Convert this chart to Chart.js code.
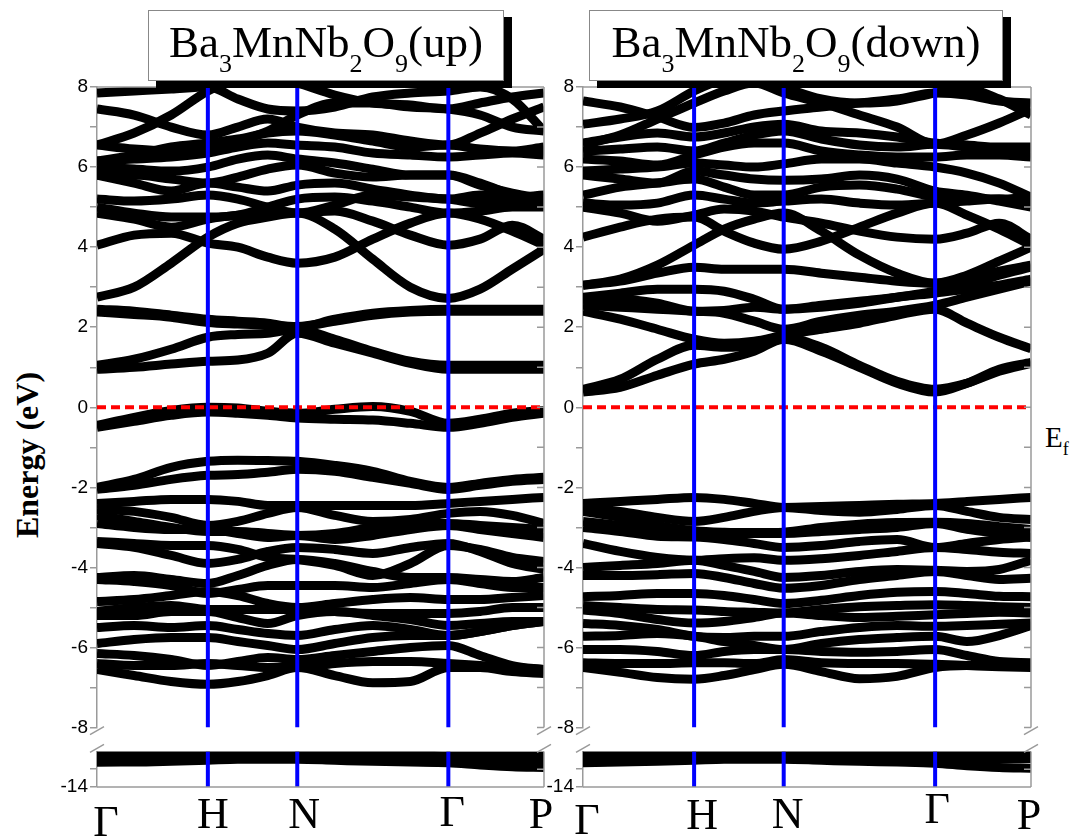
<!DOCTYPE html>
<html>
<head>
<meta charset="utf-8">
<script src="https://cdn.jsdelivr.net/npm/chart.js@4.4.0/dist/chart.umd.min.js"></script>
<style>
body { margin:0; width:1075px; height:838px; overflow:hidden; position:relative; background:#fff; font-family:"Liberation Serif", "Times New Roman", serif; }
canvas { position:absolute; }
.title { position:absolute; top:10px; height:71px; box-sizing:border-box; border:1px solid #888; background:#fff; box-shadow:8px 7px 0 #000; text-align:center; font-size:45px; line-height:63px; white-space:nowrap; z-index:2; }
.title sub { font-size:26px; vertical-align:-15px; line-height:0; }
.ylab { position:absolute; left:-73px; top:439px; width:200px; text-align:center; font-weight:bold; font-size:32px; line-height:32px; transform:rotate(-90deg); }
.ef { position:absolute; left:1045px; top:423px; font-size:29px; line-height:29px; }
.ef sub { font-size:18px; vertical-align:-8px; line-height:0; }
</style>
</head>
<body>
<div class="title" style="left:148px; width:356px;">Ba<sub>3</sub>MnNb<sub>2</sub>O<sub>9</sub>(up)</div>
<div class="title" style="left:589px; width:414px;">Ba<sub>3</sub>MnNb<sub>2</sub>O<sub>9</sub>(down)</div>
<div class="ylab">Energy (eV)</div>
<div class="ef">E<sub>f</sub></div>

<canvas id="upTop" width="560" height="681" style="left:0px; top:60px;"></canvas>
<canvas id="upBottom" width="560" height="100" style="left:0px; top:738px;"></canvas>
<canvas id="downTop" width="560" height="681" style="left:486px; top:60px;"></canvas>
<canvas id="downBottom" width="560" height="100" style="left:486px; top:738px;"></canvas>

<script>
// k-path sampling (fraction of the Γ-H-N-Γ-P path)
var kPath = [0, 0.083, 0.166, 0.248, 0.315, 0.382, 0.448, 0.532, 0.617, 0.701, 0.786, 0.857, 0.929, 1.0];
var symPoints = [0, 0.248, 0.448, 0.786, 1.0];
var symLabels = ['Γ', 'H', 'N', 'Γ', 'P'];

var upperTicks = [-8, -7, -6, -5, -4, -3, -2, -1, 0, 1, 2, 3, 4, 5, 6, 7, 8];
var lowerTicks = [-14, -13.5];

// spin up bands (eV)
var upConduction = [
    [0.95, 1.0, 1.08, 1.15, 1.18, 1.35, 1.85, 1.6, 1.35, 1.1, 0.95, 0.95, 0.95, 0.95],
    [1.05, 1.2, 1.45, 1.75, 1.82, 1.85, 1.95, 1.7, 1.4, 1.15, 1.05, 1.05, 1.05, 1.05],
    [2.45, 2.4, 2.3, 2.2, 2.15, 2.1, 2.0, 2.2, 2.35, 2.42, 2.45, 2.45, 2.45, 2.45],
    [2.38, 2.32, 2.25, 2.12, 2.08, 2.05, 2.02, 2.15, 2.3, 2.38, 2.4, 2.4, 2.4, 2.4],
    [2.75, 3.0, 3.6, 4.25, 4.6, 4.75, 4.85, 4.45, 3.7, 3.0, 2.72, 2.95, 3.45, 3.95],
    [4.05, 4.3, 4.35, 4.1, 4.0, 3.75, 3.6, 3.75, 4.2, 4.6, 4.85, 4.7, 4.4, 4.05],
    [4.85, 4.7, 4.5, 4.7, 4.8, 4.85, 4.85, 4.9, 4.65, 4.3, 4.05, 4.2, 4.55, 4.2],
    [5.0, 4.85, 4.75, 4.75, 4.8, 5.0, 5.2, 5.25, 5.15, 5.0, 4.85, 4.9, 5.0, 5.0],
    [5.2, 5.15, 5.2, 5.3, 5.2, 5.0, 4.85, 5.05, 5.3, 5.25, 5.2, 5.1, 5.15, 5.2],
    [5.8, 5.6, 5.4, 5.6, 5.5, 5.4, 5.55, 5.6, 5.45, 5.3, 5.2, 5.3, 5.25, 5.3],
    [5.8, 5.8, 5.7, 5.6, 5.75, 5.95, 6.05, 5.85, 5.75, 5.8, 5.8, 5.55, 5.35, 5.2],
    [6.0, 5.95, 5.9, 6.0, 6.2, 6.3, 6.2, 6.1, 5.95, 5.8, 5.8, 5.6, 5.3, 5.05],
    [6.15, 6.2, 6.25, 6.35, 6.5, 6.6, 6.55, 6.5, 6.35, 6.3, 6.25, 6.3, 6.35, 6.3],
    [6.15, 6.3, 6.5, 6.6, 6.7, 6.85, 6.9, 6.8, 6.65, 6.5, 6.55, 6.45, 6.4, 6.5],
    [6.55, 6.85, 7.3, 7.9, 8.2, 8.3, 8.1, 7.8, 7.6, 7.55, 7.45, 7.6, 7.75, 7.85],
    [7.45, 7.3, 7.0, 6.8, 7.0, 7.2, 7.0, 6.85, 6.8, 6.65, 6.55, 6.85, 7.2, 7.5],
    [7.85, 7.9, 7.95, 8.0, 7.7, 7.45, 7.4, 7.5, 7.75, 7.85, 7.9, 8.0, 7.7, 6.9],
    [6.55, 6.45, 6.4, 6.5, 6.65, 6.9, 7.3, 7.6, 7.6, 7.5, 7.45, 7.3, 7.0, 6.9]
];
var upValence = [
    [-0.45, -0.25, -0.08, 0.0, -0.02, -0.1, -0.15, -0.05, 0.02, -0.1, -0.4, -0.3, -0.15, -0.08],
    [-0.5, -0.35, -0.2, -0.12, -0.15, -0.2, -0.27, -0.3, -0.32, -0.4, -0.5, -0.4, -0.25, -0.15],
    [-2.0, -1.8, -1.5, -1.35, -1.32, -1.33, -1.35, -1.45, -1.6, -1.85, -2.0, -1.9, -1.8, -1.75],
    [-2.05, -1.95, -1.8, -1.7, -1.68, -1.62, -1.55, -1.6, -1.75, -1.9, -2.05, -1.95, -1.85, -1.8],
    [-2.4, -2.35, -2.3, -2.3, -2.35, -2.45, -2.45, -2.45, -2.45, -2.45, -2.4, -2.35, -2.3, -2.25],
    [-2.55, -2.6, -2.75, -2.95, -2.85, -2.65, -2.5, -2.7, -2.85, -2.8, -2.65, -2.6, -2.7, -2.9],
    [-2.7, -2.85, -3.0, -3.1, -3.1, -3.15, -3.2, -3.15, -3.0, -2.9, -2.9, -2.95, -3.0, -3.05],
    [-2.9, -3.0, -3.05, -3.05, -3.15, -3.25, -3.2, -3.3, -3.2, -3.05, -2.95, -3.05, -3.15, -3.25],
    [-3.4, -3.5, -3.7, -3.9, -3.8, -3.6, -3.5, -3.55, -3.65, -3.5, -3.4, -3.6, -3.9, -4.05],
    [-3.35, -3.4, -3.45, -3.45, -3.55, -3.75, -3.8, -3.95, -4.2, -3.9, -3.45, -3.55, -3.75, -3.85],
    [-4.25, -4.2, -4.3, -4.4, -4.2, -3.95, -3.8, -3.9, -4.1, -4.25, -4.25, -4.3, -4.35, -4.25],
    [-4.3, -4.35, -4.45, -4.65, -4.55, -4.45, -4.45, -4.45, -4.5, -4.4, -4.3, -4.4, -4.5, -4.5],
    [-4.85, -4.8, -4.7, -4.6, -4.7, -4.9, -5.0, -4.9, -4.8, -4.75, -4.8, -4.8, -4.75, -4.7],
    [-5.1, -5.0, -4.95, -5.05, -5.05, -5.05, -5.05, -5.1, -5.15, -5.15, -5.15, -5.1, -5.0, -5.0],
    [-5.2, -5.2, -5.1, -5.1, -5.25, -5.4, -5.2, -5.1, -5.2, -5.3, -5.45, -5.4, -5.35, -5.35],
    [-5.5, -5.45, -5.5, -5.45, -5.55, -5.65, -5.7, -5.55, -5.45, -5.55, -5.7, -5.6, -5.45, -5.35],
    [-5.9, -5.8, -5.75, -5.75, -5.85, -5.95, -6.05, -5.9, -5.75, -5.7, -5.7, -5.6, -5.45, -5.35],
    [-6.15, -6.2, -6.3, -6.45, -6.35, -6.25, -6.3, -6.2, -6.1, -6.0, -5.95, -6.2, -6.45, -6.55],
    [-6.4, -6.45, -6.45, -6.4, -6.45, -6.5, -6.5, -6.4, -6.35, -6.35, -6.4, -6.45, -6.5, -6.55],
    [-6.55, -6.7, -6.85, -6.92, -6.85, -6.7, -6.5, -6.7, -6.88, -6.85, -6.5, -6.5, -6.6, -6.65]
];
var upCore = [
    [-13.1, -13.1, -13.08, -13.06, -13.05, -13.05, -13.05, -13.06, -13.08, -13.1, -13.12, -13.12, -13.12, -13.12],
    [-13.3, -13.28, -13.25, -13.22, -13.2, -13.2, -13.2, -13.22, -13.25, -13.28, -13.3, -13.25, -13.22, -13.2],
    [-13.3, -13.3, -13.28, -13.25, -13.22, -13.22, -13.22, -13.25, -13.28, -13.3, -13.32, -13.38, -13.43, -13.45]
];

// spin down bands (eV)
var downConduction = [
    [0.38, 0.5, 0.8, 1.08, 1.2, 1.4, 1.7, 1.4, 1.0, 0.6, 0.38, 0.6, 0.95, 1.12],
    [0.45, 0.7, 1.2, 1.55, 1.5, 1.55, 1.75, 1.5, 1.05, 0.65, 0.45, 0.6, 0.9, 1.1],
    [2.4, 2.2, 1.95, 1.7, 1.6, 1.65, 1.8, 1.95, 2.1, 2.3, 2.45, 2.1, 1.75, 1.46],
    [2.55, 2.5, 2.45, 2.4, 2.35, 2.15, 1.95, 2.15, 2.3, 2.4, 2.55, 2.75, 2.95, 3.15],
    [2.7, 2.7, 2.6, 2.4, 2.42, 2.5, 2.45, 2.5, 2.6, 2.75, 2.85, 2.95, 3.05, 3.2],
    [2.75, 2.85, 2.95, 2.95, 2.9, 2.7, 2.45, 2.55, 2.65, 2.75, 2.9, 3.05, 3.3, 3.5],
    [3.05, 3.15, 3.35, 3.5, 3.45, 3.45, 3.45, 3.35, 3.25, 3.15, 3.1, 3.2, 3.4, 3.55],
    [3.05, 3.2, 3.55, 4.05, 4.45, 4.7, 4.85, 4.4, 3.8, 3.35, 3.1, 3.3, 3.65, 4.0],
    [4.25, 4.5, 4.7, 4.75, 4.4, 4.1, 3.95, 4.15, 4.5, 4.85, 5.1, 4.8, 4.45, 4.05],
    [5.0, 4.85, 4.65, 4.8, 4.95, 4.9, 4.75, 4.6, 4.4, 4.25, 4.2, 4.35, 4.6, 4.2],
    [5.1, 5.05, 5.1, 5.3, 5.2, 5.1, 5.15, 5.2, 5.1, 5.05, 5.1, 5.15, 5.2, 5.05],
    [5.3, 5.5, 5.6, 5.7, 5.5, 5.3, 5.3, 5.5, 5.55, 5.45, 5.25, 5.2, 5.2, 5.25],
    [5.8, 5.7, 5.6, 5.9, 5.8, 5.7, 5.67, 5.7, 5.8, 5.7, 5.4, 5.3, 5.15, 5.0],
    [5.9, 5.95, 6.0, 6.1, 6.05, 6.0, 6.08, 6.2, 6.2, 6.1, 6.0, 5.85, 5.6, 5.25],
    [6.2, 6.15, 6.05, 6.3, 6.5, 6.6, 6.6, 6.4, 6.3, 6.25, 6.25, 6.3, 6.3, 6.25],
    [6.4, 6.45, 6.5, 6.4, 6.6, 6.8, 6.9, 6.7, 6.55, 6.5, 6.57, 6.5, 6.45, 6.4],
    [6.6, 6.75, 6.85, 6.75, 6.85, 7.0, 7.07, 6.9, 6.85, 6.75, 6.6, 6.55, 6.5, 6.5],
    [7.07, 7.2, 7.4, 7.9, 8.2, 8.3, 8.0, 7.7, 7.6, 7.65, 7.85, 7.95, 7.7, 7.3],
    [7.65, 7.5, 7.25, 6.99, 7.1, 7.3, 7.4, 7.5, 7.6, 7.7, 7.85, 7.8, 7.65, 7.6],
    [6.55, 6.8, 7.2, 7.6, 7.9, 8.1, 7.85, 7.6, 7.3, 7.0, 6.57, 6.8, 7.1, 7.45]
];
var downValence = [
    [-2.4, -2.35, -2.3, -2.25, -2.3, -2.4, -2.5, -2.48, -2.45, -2.42, -2.4, -2.35, -2.3, -2.25],
    [-2.5, -2.6, -2.75, -2.85, -2.75, -2.6, -2.5, -2.58, -2.62, -2.55, -2.45, -2.6, -2.75, -2.8],
    [-2.6, -2.75, -2.95, -3.08, -3.12, -3.13, -3.12, -3.0, -2.92, -2.88, -2.87, -2.9, -2.98, -3.05],
    [-2.85, -2.95, -3.05, -3.2, -3.2, -3.15, -3.15, -3.1, -3.05, -3.0, -2.9, -3.05, -3.15, -3.25],
    [-3.0, -3.1, -3.22, -3.24, -3.3, -3.4, -3.5, -3.45, -3.35, -3.3, -3.5, -3.4, -3.3, -3.24],
    [-3.4, -3.6, -3.75, -3.82, -3.78, -3.76, -3.82, -3.78, -3.7, -3.6, -3.5, -3.55, -3.62, -3.65],
    [-4.0, -3.95, -3.9, -3.82, -3.95, -4.1, -4.25, -4.2, -4.1, -4.05, -4.07, -4.1, -4.05, -3.82],
    [-4.2, -4.2, -4.18, -4.15, -4.25, -4.4, -4.52, -4.45, -4.3, -4.2, -4.1, -4.2, -4.3, -4.27],
    [-4.73, -4.7, -4.65, -4.65, -4.7, -4.8, -4.9, -4.82, -4.7, -4.62, -4.6, -4.65, -4.72, -4.73],
    [-4.95, -5.0, -5.05, -5.06, -5.1, -5.12, -5.14, -5.05, -4.98, -4.95, -4.93, -4.95, -4.98, -5.0],
    [-5.06, -5.15, -5.3, -5.39, -5.35, -5.25, -5.14, -5.2, -5.25, -5.22, -5.18, -5.15, -5.12, -5.14],
    [-5.4, -5.45, -5.55, -5.72, -5.75, -5.72, -5.72, -5.6, -5.5, -5.45, -5.47, -5.45, -5.42, -5.39],
    [-5.72, -5.7, -5.65, -5.72, -5.85, -5.95, -6.05, -5.9, -5.8, -5.75, -5.72, -5.85, -5.7, -5.45],
    [-6.05, -6.05, -6.1, -6.2, -6.1, -6.05, -6.05, -6.1, -6.12, -6.1, -6.05, -6.2, -6.35, -6.38],
    [-6.38, -6.4, -6.4, -6.38, -6.38, -6.4, -6.3, -6.38, -6.4, -6.4, -6.42, -6.45, -6.48, -6.5],
    [-6.5, -6.62, -6.75, -6.79, -6.7, -6.55, -6.42, -6.6, -6.78, -6.72, -6.5, -6.45, -6.45, -6.48]
];
var downCore = [
    [-13.08, -13.08, -13.07, -13.05, -13.04, -13.04, -13.04, -13.05, -13.07, -13.09, -13.1, -13.1, -13.1, -13.1],
    [-13.3, -13.28, -13.25, -13.22, -13.2, -13.2, -13.2, -13.22, -13.25, -13.28, -13.3, -13.25, -13.22, -13.2],
    [-13.32, -13.3, -13.28, -13.25, -13.22, -13.22, -13.22, -13.25, -13.28, -13.3, -13.33, -13.4, -13.45, -13.47]
];

// draws the right edge, inward ticks, top/bottom edge and the axis break marks
var framePlugin = {
    id: 'frame',
    afterDatasetsDraw: function(chart, args, opts) {
        var a = chart.chartArea;
        var ctx = chart.ctx;
        var ys = chart.scales.y;
        ctx.save();
        ctx.strokeStyle = '#9a9a9a';
        ctx.lineWidth = 1.5;
        ctx.beginPath();
        ctx.moveTo(a.right, a.top);
        ctx.lineTo(a.right, a.bottom);
        if (opts.edge === 'top') {
            ctx.moveTo(a.left, a.top);
            ctx.lineTo(a.right, a.top);
        } else {
            ctx.moveTo(a.left, a.bottom);
            ctx.lineTo(a.right, a.bottom);
        }
        ys.ticks.forEach(function(t) {
            var y = ys.getPixelForValue(t.value);
            ctx.moveTo(a.right - 7, y);
            ctx.lineTo(a.right, y);
        });
        var by = opts.edge === 'top' ? a.bottom + 3 : a.top - 3;
        [a.left, a.right].forEach(function(x) {
            ctx.moveTo(x - 7, by + 4);
            ctx.lineTo(x + 7, by - 4);
        });
        ctx.stroke();
        ctx.restore();
    }
};

// high-symmetry point names under the lower segment
var kLabelPlugin = {
    id: 'kLabels',
    afterDraw: function(chart, args, opts) {
        if (!opts.dx) return;
        var ctx = chart.ctx;
        var xs = chart.scales.x;
        ctx.save();
        ctx.fillStyle = '#000';
        ctx.font = '44px "Liberation Serif", serif';
        ctx.textAlign = 'center';
        ctx.textBaseline = 'alphabetic';
        symLabels.forEach(function(lab, i) {
            ctx.fillText(lab, xs.getPixelForValue(symPoints[i]) + opts.dx[i], 828 - 738 + opts.dy[i]);
        });
        ctx.restore();
    }
};

function bandSets(bands) {
    return bands.map(function(b) {
        return {
            data: b.map(function(v, i) { return {x: kPath[i], y: v}; }),
            borderColor: '#000',
            borderWidth: 9,
            pointRadius: 0,
            cubicInterpolationMode: 'monotone',
            clip: 0,
            order: 2
        };
    });
}

function guideSets(lo, hi, withFermi) {
    var sets = symPoints.slice(1, 4).map(function(k) {
        return {
            data: [{x: k, y: lo}, {x: k, y: hi}],
            borderColor: '#0000ff',
            borderWidth: 4,
            pointRadius: 0,
            tension: 0,
            clip: 0,
            order: 0
        };
    });
    if (withFermi) {
        sets.push({
            data: [{x: 0, y: 0}, {x: 1, y: 0}],
            borderColor: '#ff0000',
            borderWidth: 4,
            borderDash: [9, 5],
            pointRadius: 0,
            tension: 0,
            order: 1
        });
    }
    return sets;
}

function makeChart(id, bands, lo, hi, ticks, isTop, labelOpts) {
    var padRight = id.indexOf('down') === 0 ? 15 : 16;
    return new Chart(document.getElementById(id), {
        type: 'line',
        data: { datasets: guideSets(lo, hi, isTop).concat(bandSets(bands)) },
        options: {
            responsive: false,
            animation: false,
            devicePixelRatio: 1,
            events: [],
            layout: { autoPadding: false, padding: { left: 0, right: padRight, top: isTop ? 27 : 9, bottom: isTop ? 8 : 51 } },
            plugins: {
                legend: { display: false },
                tooltip: { enabled: false },
                frame: { edge: isTop ? 'top' : 'bottom' },
                kLabels: labelOpts || {}
            },
            scales: {
                x: { type: 'linear', min: 0, max: 1, display: false },
                y: {
                    type: 'linear',
                    min: lo,
                    max: hi,
                    afterFit: function(s) { s.width = 97; },
                    afterBuildTicks: function(s) { s.ticks = ticks.map(function(v) { return {value: v}; }); },
                    ticks: {
                        autoSkip: false,
                        padding: 2,
                        color: '#000',
                        font: { family: '"Liberation Sans", Arial, sans-serif', size: 19 },
                        callback: function(v) {
                            if (isTop) return v % 2 === 0 ? String(v) : '';
                            return v === -14 ? '-14' : '';
                        }
                    },
                    grid: { drawOnChartArea: false, tickLength: 7, color: '#9a9a9a', lineWidth: 1.5 },
                    border: { color: '#9a9a9a', width: 1.5 }
                }
            }
        },
        plugins: [framePlugin, kLabelPlugin]
    });
}

makeChart('upTop', upConduction.concat(upValence), -8, 8, upperTicks, true);
makeChart('upBottom', upCore, -14, -13, lowerTicks, false, { dx: [9, 5, 7, 4, -3], dy: [8, 0, 0, -2, 0] });
makeChart('downTop', downConduction.concat(downValence), -8, 8, upperTicks, true);
makeChart('downBottom', downCore, -14, -13, lowerTicks, false, { dx: [4, 8, 4, 2, -2], dy: [6, 1, 0, -5, 1] });
</script>
</body>
</html>
